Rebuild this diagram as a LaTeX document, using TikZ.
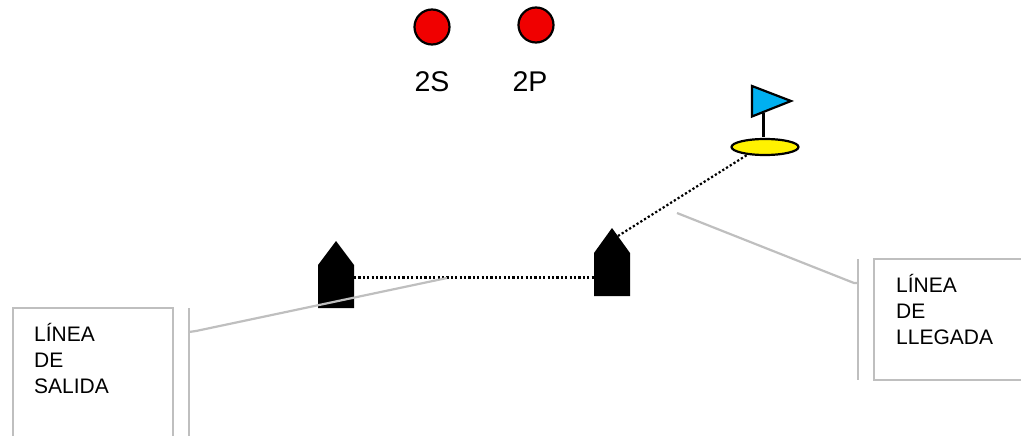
\documentclass[tikz,border=0pt]{standalone}
\usepackage{fontspec}
\setmainfont{Liberation Sans}
\usetikzlibrary{shapes.geometric}
\definecolor{greyline}{RGB}{191,191,191}
\definecolor{flagblue}{RGB}{0,176,240}
\definecolor{redmark}{RGB}{240,0,0}
\tikzset{
  greybox/.style={draw=greyline,line width=2.2pt,fill=white},
  greyconn/.style={draw=greyline,line width=2.2pt},
  boat/.style={fill=black,draw=none},
  dotline/.style={draw=black,line width=2.2pt,dash pattern=on 2.2pt off 2.2pt},
  redball/.style={circle,draw=black,line width=2.2pt,fill=redmark,minimum size=35pt,inner sep=0pt},
  biglabel/.style={font=\fontsize{28.5pt}{30pt}\selectfont,anchor=base,inner sep=0pt},
  boxtext/.style={font=\fontsize{21pt}{26pt}\selectfont,align=left,anchor=north west,inner sep=0pt,text depth=0pt}
}
\begin{document}
\begin{tikzpicture}[x=1pt,y=-1pt]
\useasboundingbox (0,0) rectangle (1021,436);
% boxes (running off the picture's edges)
\path[greybox] (13,445) -- (13,308) -- (173,308) -- (173,445);
\path[greybox] (1030,259) -- (874,259) -- (874,380) -- (1030,380);
\node[boxtext] (salida) at (34,323) {LÍNEA\\DE\\SALIDA};
\node[boxtext] (llegada) at (896,274) {LÍNEA\\DE\\LLEGADA};
% boats
\path[boat] (318,308) -- (318,265) -- (336,241) -- (354,265) -- (354,308) -- cycle;
\path[boat] (594,296) -- (594,253) -- (612,228) -- (630,253) -- (630,296) -- cycle;
\coordinate (boatA) at (354,277.5);
\coordinate (boatB) at (594,277.5);
\coordinate (boatBtop) at (618,236);
% flag
\node[ellipse,draw=black,line width=2.2pt,fill=yellow,minimum width=67pt,minimum height=16pt,inner sep=0pt] (buoy) at (765,147) {};
\coordinate (poleTop) at (763.5,113);
\draw[black,line width=2.2pt] (poleTop) -- (763.5,137);
\draw[black,line width=2.2pt,fill=flagblue,line join=miter] (752,86) -- (791,101) -- (752,116.5) -- cycle;
% dotted line
\path[dotline] (boatA) -- (boatB);
\path[dotline] (boatBtop) -- (747,155);
% grey leaders
\coordinate (bracketLtop) at (189,308);
\coordinate (bracketLbot) at (189,445);
\coordinate (bracketRtop) at (858,259);
\coordinate (bracketRbot) at (858,380);
\path[greyconn] (bracketLtop) -- (bracketLbot);
\path[greyconn] (bracketRtop) -- (bracketRbot);
\path[greyconn] (189,332) -- (196,331) -- (447,278);
\path[greyconn] (858,283) -- (854,283) -- (677,213);
% red marks
\node[redball] (s) at (432,27) {};
\node[redball] (p) at (536,25) {};
\node[biglabel] (sl) at (432,91.5) {2S};
\node[biglabel] (pl) at (530,91.5) {2P};
\end{tikzpicture}
\end{document}
